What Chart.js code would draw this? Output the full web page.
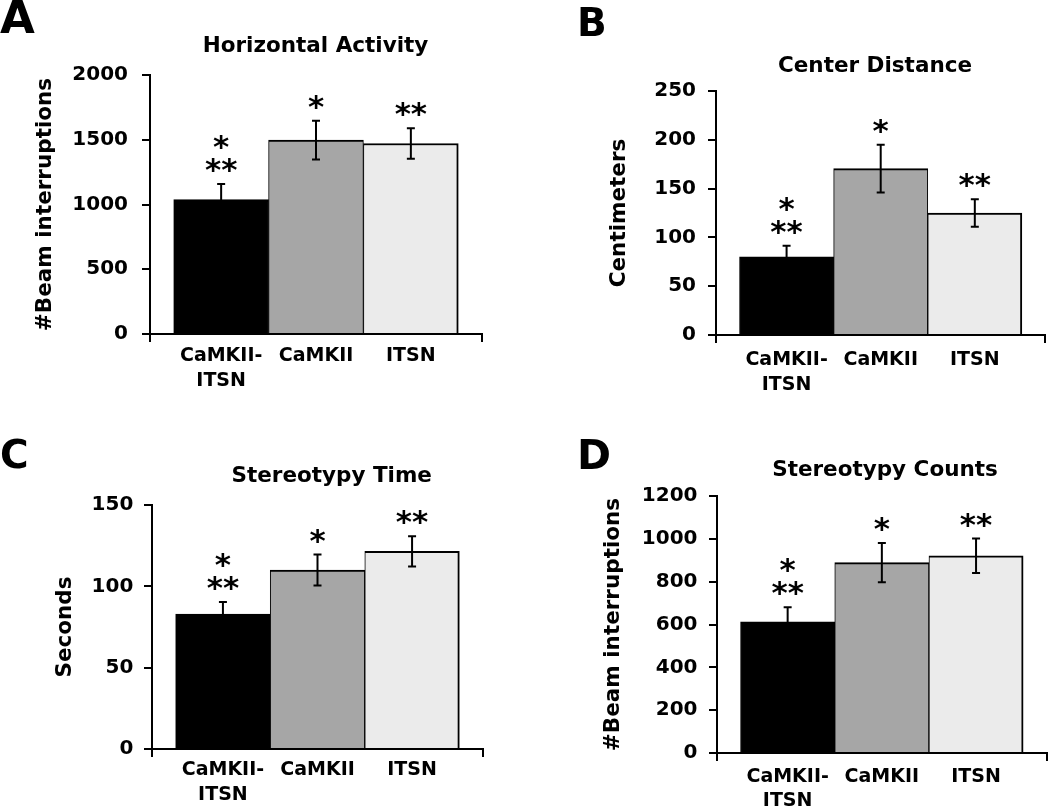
<!DOCTYPE html>
<html>
<head>
<meta charset="utf-8">
<script src="https://cdn.jsdelivr.net/npm/chart.js@4.4.1/dist/chart.umd.min.js"></script>
<style>
html, body { margin: 0; padding: 0; background: #ffffff; }
body { width: 1050px; height: 810px; position: relative; overflow: hidden; }
canvas { position: absolute; }
.panel-letter { position: absolute; font-family: "DejaVu Sans"; font-weight: bold; line-height: 1; color: #000; }
</style>
</head>
<body>
<canvas id="chartA" width="525" height="400" style="left:0px;top:0px"></canvas>
<canvas id="chartB" width="525" height="400" style="left:525px;top:0px"></canvas>
<canvas id="chartC" width="525" height="410" style="left:0px;top:400px"></canvas>
<canvas id="chartD" width="525" height="410" style="left:525px;top:400px"></canvas>
<div class="panel-letter" style="left:0px;top:-5px;font-size:45px">A</div>
<div class="panel-letter" style="left:577px;top:3px;font-size:39px">B</div>
<div class="panel-letter" style="left:0px;top:435px;font-size:39px">C</div>
<div class="panel-letter" style="left:577px;top:435px;font-size:41px">D</div>
<script>
// ---------- data ----------
const categories = ['CaMKII-ITSN', 'CaMKII', 'ITSN'];
const barColors = ['#000000', '#a6a6a6', '#ebebeb'];
const significance = [['*', '**'], ['*'], ['**']];

const horizontalMeans = [1038, 1497, 1471];
const horizontalErrors = [121, 150, 118];
const horizontalTicks = [0, 500, 1000, 1500, 2000];

const centerMeans = [80, 170.5, 125];
const centerErrors = [11.5, 24.5, 14];
const centerTicks = [0, 50, 100, 150, 200, 250];

const stereoTimeMeans = [83, 110, 121.5];
const stereoTimeErrors = [7.4, 9.5, 9.3];
const stereoTimeTicks = [0, 50, 100, 150];

const stereoCountMeans = [613, 889, 921];
const stereoCountErrors = [67, 92, 80];
const stereoCountTicks = [0, 200, 400, 600, 800, 1000, 1200];

// ---------- helpers ----------
const FONT = 'DejaVu Sans';
const X_MIN = 0.25, X_MAX = 3.75;

function categoryLabel(v) {
  const i = Math.round(v) - 1;
  if (Math.abs(v - Math.round(v)) > 1e-6 || i < 0 || i >= categories.length) return '';
  const name = categories[i];
  return name.includes('-') ? name.replace('-', '-\n').split('\n') : name;
}

function makeAnnotations(means, errors, title, titleX, titleY) {
  return {
    id: 'annotations',
    afterDatasetsDraw(chart) {
      const ctx = chart.ctx;
      const xs = chart.scales.x, ys = chart.scales.y;
      ctx.save();
      ctx.strokeStyle = '#000';
      ctx.fillStyle = '#000';
      ctx.lineWidth = 2;
      means.forEach((m, i) => {
        const x = xs.getPixelForValue(i + 1);
        const yT = ys.getPixelForValue(m + errors[i]);
        const yB = ys.getPixelForValue(m - errors[i]);
        ctx.beginPath();
        ctx.moveTo(x, yT); ctx.lineTo(x, yB);
        ctx.moveTo(x - 4, yT); ctx.lineTo(x + 4, yT);
        ctx.moveTo(x - 4, yB); ctx.lineTo(x + 4, yB);
        ctx.stroke();
        ctx.font = 'bold 31px "' + FONT + '"';
        ctx.textAlign = 'center';
        ctx.textBaseline = 'alphabetic';
        const rows = significance[i].slice().reverse();
        rows.forEach((r, k) => ctx.fillText(r, x, yT - 4 - k * 23));
      });
      ctx.font = 'bold 21.5px "' + FONT + '"';
      ctx.textAlign = 'center';
      ctx.textBaseline = 'alphabetic';
      ctx.fillText(title, titleX, titleY);
      ctx.restore();
    }
  };
}

function makeChart(id, means, errors, yTicks, yTitle, title, L) {
  const canvas = document.getElementById(id);
  const W = canvas.width, H = canvas.height;
  return new Chart(canvas, {
    type: 'bar',
    data: {
      datasets: [{
        data: means.map((m, i) => ({ x: i + 1, y: m })),
        backgroundColor: barColors,
        borderColor: '#000000',
        borderWidth: (c) => ({ top: 2, left: 1, right: c.dataIndex === means.length - 1 ? 2 : 1, bottom: 0 }),
        borderSkipped: 'start',
        barThickness: 'flex',
        categoryPercentage: 1,
        barPercentage: 1
      }]
    },
    options: {
      responsive: false,
      animation: false,
      events: [],
      layout: { padding: { left: 0, top: L.top, right: W - L.right, bottom: 0 } },
      plugins: { legend: { display: false }, tooltip: { enabled: false }, title: { display: false } },
      scales: {
        x: {
          type: 'linear', min: X_MIN, max: X_MAX, bounds: 'data', offset: false,
          afterBuildTicks: (s) => { s.ticks = [X_MIN, 1, 2, 3, X_MAX].map(v => ({ value: v })); },
          afterFit: (s) => { s.height = H - L.bottom; },
          ticks: {
            autoSkip: false, maxRotation: 0, minRotation: 0, padding: L.xPad, color: '#000',
            font: { family: FONT, weight: 'bold', size: 19, lineHeight: 1.3 },
            callback: (v) => categoryLabel(v)
          },
          grid: {
            offset: false,
            drawOnChartArea: false, drawTicks: true, tickLength: 8, lineWidth: 2,
            color: (c) => (c.tick && (c.tick.value < 0.5 || c.tick.value > 3.5)) ? '#000' : 'rgba(0,0,0,0)'
          },
          border: { display: true, color: '#000', width: 2 }
        },
        y: {
          type: 'linear', min: yTicks[0], max: yTicks[yTicks.length - 1], bounds: 'data',
          afterBuildTicks: (s) => { s.ticks = yTicks.map(v => ({ value: v })); },
          afterFit: (s) => { s.width = L.left; },
          ticks: {
            padding: L.tickPad, color: '#000',
            font: { family: FONT, weight: 'bold', size: 20 },
            callback: (v) => String(v)
          },
          grid: { offset: false, drawOnChartArea: false, drawTicks: true, tickLength: 8, lineWidth: 2, color: '#000' },
          border: { display: true, color: '#000', width: 2 },
          title: {
            display: true, text: yTitle, color: '#000',
            font: { family: FONT, weight: 'bold', size: 21.5, lineHeight: 1.2 },
            padding: { top: L.yTitleC - 12.9, bottom: 0 }
          }
        }
      }
    },
    plugins: [makeAnnotations(means, errors, title, L.titleX, L.titleY)]
  });
}

makeChart('chartA', horizontalMeans, horizontalErrors, horizontalTicks, '#Beam interruptions', 'Horizontal Activity',
  { left: 150, right: 482, top: 75, bottom: 334, tickPad: 14, xPad: 2, yTitleC: 45, titleX: 315.5, titleY: 52.3 });
makeChart('chartB', centerMeans, centerErrors, centerTicks, 'Centimeters', 'Center Distance',
  { left: 191, right: 524, top: 91, bottom: 335, tickPad: 12, xPad: 4.6, yTitleC: 94.8, titleX: 350, titleY: 71.5 });
makeChart('chartC', stereoTimeMeans, stereoTimeErrors, stereoTimeTicks, 'Seconds', 'Stereotypy Time',
  { left: 152, right: 483, top: 105, bottom: 349, tickPad: 10.7, xPad: 1, yTitleC: 65, titleX: 331.7, titleY: 81.7 });
makeChart('chartD', stereoCountMeans, stereoCountErrors, stereoCountTicks, '#Beam interruptions', 'Stereotypy Counts',
  { left: 192, right: 524, top: 96, bottom: 353, tickPad: 11.5, xPad: 3.3, yTitleC: 88, titleX: 360, titleY: 76 });
</script>
</body>
</html>
